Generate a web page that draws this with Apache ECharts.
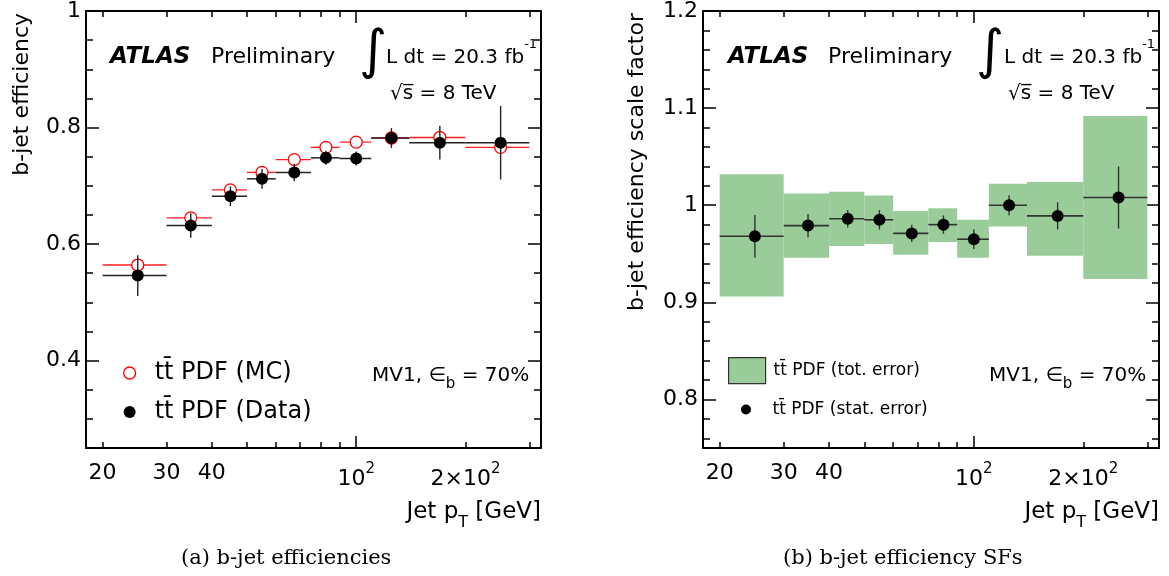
<!DOCTYPE html>
<html>
<head>
<meta charset="utf-8">
<script src="https://cdn.jsdelivr.net/npm/echarts@6/dist/echarts.min.js"></script>
<style>html,body{margin:0;padding:0;background:#fff;}#c{width:1169px;height:576px;}</style>
</head>
<body>
<div id="c"></div>
<script>
// ---------------- data ----------------
const binEdges   = [20, 30, 40, 50, 60, 75, 90, 110, 140, 200, 300];
const binCenters = [25, 35, 45, 55, 67.5, 82.5, 100, 125, 170, 250];
// (a) b-jet efficiencies
const effMC      = [0.564, 0.645, 0.693, 0.723, 0.745, 0.766, 0.775, 0.782, 0.783, 0.766];
const effData    = [0.546, 0.632, 0.682, 0.712, 0.723, 0.748, 0.747, 0.782, 0.774, 0.774];
const effDataErr = [0.035, 0.021, 0.017, 0.017, 0.015, 0.012, 0.012, 0.017, 0.029, 0.063];
// (b) scale factors
const sfValue    = [0.968, 0.979, 0.986, 0.985, 0.971, 0.980, 0.965, 1.000, 0.989, 1.008];
const sfStatErr  = [0.022, 0.012, 0.009, 0.010, 0.009, 0.0095, 0.010, 0.0103, 0.014, 0.032];
const sfTotLow   = [0.906, 0.946, 0.958, 0.960, 0.949, 0.962, 0.946, 0.978, 0.948, 0.924];
const sfTotHigh  = [1.032, 1.012, 1.014, 1.010, 0.994, 0.997, 0.985, 1.022, 1.024, 1.092];
// axis ticks
const xLabelTicks = [20, 30, 40, 100, 200];
const xMajorTicks = [100];
const xMinorTicks = [20, 30, 40, 50, 60, 70, 80, 90, 200, 300];
const yEffMajor   = [0.4, 0.6, 0.8, 1.0];
const yEffMinor   = [0.25, 0.3, 0.35, 0.45, 0.5, 0.55, 0.65, 0.7, 0.75, 0.85, 0.9, 0.95];
const ySfMajor    = [0.8, 0.9, 1.0, 1.1, 1.2];
const ySfMinor    = [0.76, 0.78, 0.82, 0.84, 0.86, 0.88, 0.92, 0.94, 0.96, 0.98, 1.02, 1.04, 1.06, 1.08, 1.12, 1.14, 1.16, 1.18];

const nameMC = 'tt\u0304 PDF (MC)';
const nameData = 'tt\u0304 PDF (Data)';
const nameTot = 'tt\u0304 PDF (tot. error)';
const nameStat = 'tt\u0304 PDF (stat. error)';

// ---------------- helpers ----------------
const FONT = 'DejaVu Sans';
const X_MIN = 18, X_MAX = 323;
const GREEN = '#99cc99';

function errRows(vals, errs) {
  return binCenters.map((c, i) => [c, vals[i], binEdges[i], binEdges[i + 1], errs ? errs[i] : 0]);
}
function pts(vals) { return binCenters.map((c, i) => [c, vals[i]]); }

function errRender(color, hw, vw) {
  return function (params, api) {
    const x = api.value(0), y = api.value(1), lo = api.value(2), hi = api.value(3), e = api.value(4);
    const pL = api.coord([lo, y]), pR = api.coord([hi, y]);
    const ch = [{ type: 'line', shape: { x1: pL[0], y1: pL[1], x2: pR[0], y2: pR[1] }, style: { stroke: color, lineWidth: hw } }];
    if (e > 0) {
      const pT = api.coord([x, y + e]), pB = api.coord([x, y - e]);
      ch.push({ type: 'line', shape: { x1: pT[0], y1: pT[1], x2: pB[0], y2: pB[1] }, style: { stroke: color, lineWidth: vw } });
    }
    return { type: 'group', children: ch };
  };
}
function boxRender(params, api) {
  const p1 = api.coord([api.value(0), api.value(3)]);
  const p2 = api.coord([api.value(1), api.value(2)]);
  return { type: 'rect', shape: { x: p1[0], y: p1[1], width: p2[0] - p1[0], height: p2[1] - p1[1] }, style: { fill: GREEN } };
}

const supRich = { sup: { fontSize: 15, fontFamily: FONT, padding: [0, 0, 20, 0] } };
function xLabelFmt(v) {
  const r = Math.round(v);
  if (r === 100) return '10{sup|2}';
  if (r === 200) return '2\u00d710{sup|2}';
  return String(r);
}

function xAxes(grid) {
  const base = { gridIndex: grid, type: 'log', logBase: 10, min: X_MIN, max: X_MAX, splitLine: { show: false }, minorTick: { show: false } };
  const tickStyle = { color: '#000', width: 1.5 };
  return [
    Object.assign({}, base, {
      position: 'bottom',
      axisLine: { show: true, lineStyle: { color: '#000', width: 2 } },
      axisTick: { show: true, inside: true, length: 12, customValues: xMajorTicks, lineStyle: tickStyle },
      axisLabel: { show: true, customValues: xLabelTicks, formatter: xLabelFmt, margin: 14, color: '#000', fontFamily: FONT, fontSize: 22, rich: supRich },
      name: 'Jet p{sub|T} [GeV]', nameLocation: 'end', nameGap: 0, nameMoveOverlap: false,
      nameTextStyle: { align: 'right', verticalAlign: 'top', padding: [45, 0, 0, 0], color: '#000', fontFamily: FONT, fontSize: 23,
        rich: { sub: { fontSize: 16, fontFamily: FONT, padding: [22, 0, 0, 0] } } }
    }),
    Object.assign({}, base, { position: 'bottom', axisLine: { show: false }, axisLabel: { show: false },
      axisTick: { show: true, inside: true, length: 6, customValues: xMinorTicks, lineStyle: tickStyle } }),
    Object.assign({}, base, { position: 'top', axisLine: { show: true, lineStyle: { color: '#000', width: 2 } }, axisLabel: { show: false },
      axisTick: { show: true, inside: true, length: 12, customValues: xMajorTicks, lineStyle: tickStyle } }),
    Object.assign({}, base, { position: 'top', axisLine: { show: false }, axisLabel: { show: false },
      axisTick: { show: true, inside: true, length: 6, customValues: xMinorTicks, lineStyle: tickStyle } })
  ];
}
function yAxes(grid, min, max, major, minor, title, padLeft) {
  const base = { gridIndex: grid, type: 'value', min: min, max: max, splitLine: { show: false } };
  const tickStyle = { color: '#000', width: 1.5 };
  return [
    Object.assign({}, base, {
      position: 'left',
      axisLine: { show: true, lineStyle: { color: '#000', width: 2 } },
      axisTick: { show: true, inside: true, length: 13, customValues: major, lineStyle: tickStyle },
      axisLabel: { show: true, customValues: major, margin: 5, color: '#000', fontFamily: FONT, fontSize: 22 },
      name: title, nameLocation: 'end', nameRotate: 90, nameGap: -2, nameMoveOverlap: false,
      nameTextStyle: { align: 'right', verticalAlign: 'bottom', padding: [0, 0, padLeft, 0], color: '#000', fontFamily: FONT, fontSize: 22 }
    }),
    Object.assign({}, base, { position: 'left', axisLine: { show: false }, axisLabel: { show: false },
      axisTick: { show: true, inside: true, length: 7, customValues: minor, lineStyle: tickStyle } }),
    Object.assign({}, base, { position: 'right', axisLine: { show: true, lineStyle: { color: '#000', width: 2 } }, axisLabel: { show: false },
      axisTick: { show: true, inside: true, length: 13, customValues: major, lineStyle: tickStyle } }),
    Object.assign({}, base, { position: 'right', axisLine: { show: false }, axisLabel: { show: false },
      axisTick: { show: true, inside: true, length: 7, customValues: minor, lineStyle: tickStyle } })
  ];
}

function txt(x, y, text, size, extra) {
  return { type: 'text', x: x, y: y, silent: true, style: Object.assign({ text: text, fill: '#000', fontFamily: FONT, fontSize: size, verticalAlign: 'middle', align: 'left' }, extra || {}) };
}
function panelTexts(ox) {
  return [
    txt(ox.atlas, 57, 'ATLAS', 23, { fontWeight: 'bold', fontStyle: 'italic' }),
    txt(ox.prelim, 57, 'Preliminary', 22),
    txt(ox.integ, 54, '\u222b', 54, { align: 'center', fontWeight: 'normal' }),
    txt(ox.lumi, 58, 'L dt = 20.3 fb{sup|-1}', 20, { rich: { sup: { fontSize: 13, fontFamily: FONT, padding: [0, 0, 26, 0] } } }),
    txt(ox.sqrts, 94, '\u221as\u0305 = 8 TeV', 20),
    txt(ox.mv1, 376, 'MV1, \u2208{sub|b} = 70%', 20, { rich: { sub: { fontSize: 15, fontFamily: FONT, padding: [16, 0, 0, 0] } } })
  ];
}

const option = {
  animation: false,
  backgroundColor: '#fff',
  title: [
    { text: '(a) b-jet efficiencies', left: 181, top: 548, padding: 0, textStyle: { fontFamily: 'DejaVu Serif', fontSize: 21, fontWeight: 'normal', color: '#000' } },
    { text: '(b) b-jet efficiency SFs', left: 783, top: 548, padding: 0, textStyle: { fontFamily: 'DejaVu Serif', fontSize: 21, fontWeight: 'normal', color: '#000' } }
  ],
  grid: [
    { left: 86, top: 11, width: 455, height: 437, outerBoundsMode: 'none', containLabel: false },
    { left: 703, top: 11, width: 456, height: 437, outerBoundsMode: 'none', containLabel: false }
  ],
  legend: [
    { left: 123, top: 361, orient: 'vertical', padding: 0, itemWidth: 40, itemHeight: 12, itemGap: 15, selectedMode: false,
      textStyle: { fontFamily: FONT, fontSize: 24, lineHeight: 24, color: '#000' },
      data: [
        { name: nameMC, icon: 'circle', itemStyle: { color: '#fff', borderColor: '#ff0000', borderWidth: 1.3 } },
        { name: nameData, icon: 'circle', itemStyle: { color: '#000', borderWidth: 0 } }
      ] },
    { left: 728, top: 357, orient: 'vertical', padding: 0, itemWidth: 37, itemHeight: 26, selectedMode: false,
      textStyle: { fontFamily: FONT, fontSize: 17, color: '#000', padding: [0, 0, 0, 3] },
      data: [{ name: nameTot, icon: 'rect', itemStyle: { color: GREEN, borderColor: '#333', borderWidth: 1.2 } }] },
    { left: 741, top: 401, orient: 'vertical', padding: 0, itemWidth: 37, itemHeight: 10, selectedMode: false,
      textStyle: { fontFamily: FONT, fontSize: 17, color: '#000', padding: [0, 0, 0, 3] },
      data: [{ name: nameStat, icon: 'circle', itemStyle: { color: '#000', borderWidth: 0 } }] }
  ],
  xAxis: xAxes(0).concat(xAxes(1)),
  yAxis: yAxes(0, 0.25, 1.0, yEffMajor, yEffMinor, 'b-jet efficiency', 53)
    .concat(yAxes(1, 0.75, 1.2, ySfMajor, ySfMinor, 'b-jet efficiency scale factor', 55)),
  series: [
    // ----- panel (a)
    { name: 'MC bins', type: 'custom', xAxisIndex: 0, yAxisIndex: 0, renderItem: errRender('#ff2020', 1.4, 1.2),
      encode: { x: 0, y: 1 }, data: errRows(effMC, null), z: 2 },
    { name: nameMC, type: 'scatter', xAxisIndex: 0, yAxisIndex: 0, symbol: 'circle', symbolSize: 12,
      itemStyle: { color: '#fff', borderColor: '#ff0000', borderWidth: 1.3, opacity: 1 }, data: pts(effMC), z: 3 },
    { name: 'Data errors', type: 'custom', xAxisIndex: 0, yAxisIndex: 0, renderItem: errRender('#222', 1.5, 1.4),
      encode: { x: 0, y: 1 }, data: errRows(effData, effDataErr), z: 4 },
    { name: nameData, type: 'scatter', xAxisIndex: 0, yAxisIndex: 0, symbol: 'circle', symbolSize: 12,
      itemStyle: { color: '#000', opacity: 1 }, data: pts(effData), z: 5 },
    // ----- panel (b)
    { name: nameTot, type: 'custom', xAxisIndex: 4, yAxisIndex: 4, renderItem: boxRender,
      itemStyle: { color: GREEN }, encode: { x: [0, 1], y: [2, 3] },
      data: binCenters.map((c, i) => [binEdges[i], binEdges[i + 1], sfTotLow[i], sfTotHigh[i]]), z: 1 },
    { name: 'SF stat', type: 'custom', xAxisIndex: 4, yAxisIndex: 4, renderItem: errRender('#333', 1.6, 1.4),
      encode: { x: 0, y: 1 }, data: errRows(sfValue, sfStatErr), z: 4 },
    { name: nameStat, type: 'scatter', xAxisIndex: 4, yAxisIndex: 4, symbol: 'circle', symbolSize: 12,
      itemStyle: { color: '#000', opacity: 1 }, data: pts(sfValue), z: 5 }
  ],
  graphic: panelTexts({ atlas: 110, prelim: 211, integ: 373, lumi: 386, sqrts: 390, mv1: 372 })
    .concat(panelTexts({ atlas: 728, prelim: 828, integ: 990, lumi: 1004, sqrts: 1008, mv1: 989 }))
};

const chart = echarts.init(document.getElementById('c'), null, { renderer: 'canvas' });
chart.setOption(option);
</script>
</body>
</html>
